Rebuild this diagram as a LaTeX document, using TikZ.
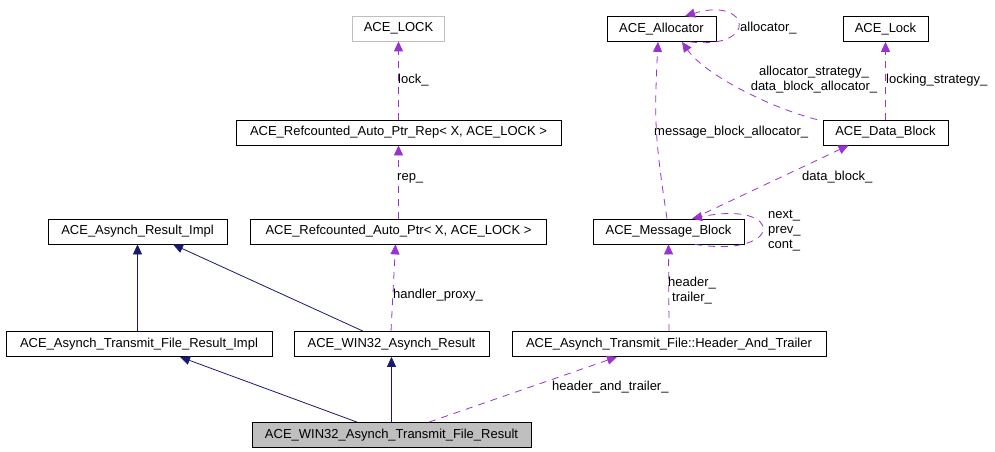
\documentclass[tikz,border=0pt]{standalone}
\usepackage{fontspec}
\setmainfont{Liberation Sans}
\usetikzlibrary{arrows.meta}
\definecolor{inherit}{HTML}{191970}
\definecolor{usage}{HTML}{9A32CD}
\definecolor{boxgray}{HTML}{BFBFBF}
\tikzset{
  cls/.style={draw=black, fill=white, line width=0.8pt, inner sep=0pt, minimum height=25pt},
  base/.style={line width=0.8pt, draw=inherit, -{Triangle[length=10pt,width=9pt,fill=inherit]}},
  member/.style={line width=0.8pt, draw=usage, dash pattern=on 7pt off 6pt, -{Triangle[length=10pt,width=9pt,fill=usage]}},
  lbl/.style={anchor=west, inner sep=0pt, align=left}
}
\begin{document}
\begin{tikzpicture}[x=1pt, y=-1pt, font=\fontsize{13}{15}\selectfont]
        \useasboundingbox[fill=white] (0,0) rectangle (995,452);
        % classes
        \node[cls, draw=boxgray, minimum width=92pt] (LOCK) at (398.5, 28.5) {ACE\_LOCK};
        \node[cls, minimum width=109pt] (Alloc) at (661.5, 29) {ACE\_Allocator};
        \node[cls, minimum width=85pt] (Lock) at (885.5, 29) {ACE\_Lock};
        \node[cls, minimum width=325pt] (Rep) at (398.5, 132.5) {ACE\_Refcounted\_Auto\_Ptr\_Rep< X, ACE\_LOCK >};
        \node[cls, minimum width=125pt] (DataBlk) at (885.5, 132.5) {ACE\_Data\_Block};
        \node[cls, minimum width=179pt] (ResImpl) at (137.5, 231.5) {ACE\_Asynch\_Result\_Impl};
        \node[cls, minimum width=296pt] (Ptr) at (398.5, 231.5) {ACE\_Refcounted\_Auto\_Ptr< X, ACE\_LOCK >};
        \node[cls, minimum width=151pt] (MsgBlk) at (668.5, 231.5) {ACE\_Message\_Block};
        \node[cls, minimum width=266pt] (TFImpl) at (139, 344) {ACE\_Asynch\_Transmit\_File\_Result\_Impl};
        \node[cls, minimum width=195pt] (W32Res) at (391.5, 344) {ACE\_WIN32\_Asynch\_Result};
        \node[cls, minimum width=314pt] (HdrTrl) at (669, 344) {ACE\_Asynch\_Transmit\_File::Header\_And\_Trailer};
        \node[cls, fill=boxgray, minimum width=279pt] (W32TF) at (391.5, 435) {ACE\_WIN32\_Asynch\_Transmit\_File\_Result};
        % inheritance
        \draw[base] ([xshift=-1.5pt]TFImpl.north) -- (ResImpl.south);
        \draw[base] ([xshift=-28.5pt]W32Res.north) -- ([xshift=35.5pt]ResImpl.south);
        \draw[base] ([xshift=-34.5pt]W32TF.north) -- ([xshift=41pt]TFImpl.south);
        \draw[base] (W32TF.north) -- (W32Res.south);
        % members
        \draw[member] ([xshift=37.5pt]W32TF.north) -- ([xshift=-52pt]HdrTrl.south);
        \draw[member] ([xshift=-0.5pt]W32Res.north) -- ([xshift=-3pt]Ptr.south);
        \draw[member] (Ptr.north) -- (Rep.south);
        \draw[member] (Rep.north) -- (LOCK.south);
        \draw[member] (HdrTrl.north) -- (MsgBlk.south);
        \draw[member] ([xshift=24.5pt]MsgBlk.north) -- ([xshift=-37pt]DataBlk.south);
        \draw[member] ([xshift=-1.5pt]MsgBlk.north) .. controls +(-12,-80) and +(-4,80) .. ([xshift=-3.5pt]Alloc.south);
        \draw[member] ([xshift=-68.5pt]DataBlk.north) .. controls +(-47,-12) and +(23,33) .. ([xshift=20.5pt]Alloc.south);
        \draw[member] (DataBlk.north) -- (Lock.south);
        \draw[member] ([xshift=28.5pt]Alloc.south) .. controls +(70,8) and +(65,-20) .. ([xshift=23.5pt]Alloc.north);
        \draw[member] ([xshift=26.5pt]MsgBlk.south) .. controls +(90,14) and +(93,-19) .. ([xshift=23.5pt]MsgBlk.north);
        % labels
        \node[lbl] (lHT) at (552, 387) {header\_and\_trailer\_};
        \node[lbl] (lHP) at (393, 295) {handler\_proxy\_};
        \node[lbl] (lRep) at (397, 178) {rep\_};
        \node[lbl] (lLck) at (398, 80) {lock\_};
        \node[lbl, align=center] (lHdr) at (668, 291) {header\_\\trailer\_};
        \node[lbl] (lMBA) at (654, 132) {message\_block\_allocator\_};
        \node[inner sep=0pt, align=center] (lAS) at (814, 80) {allocator\_strategy\_\\data\_block\_allocator\_};
        \node[lbl] (lDB) at (802, 177) {data\_block\_};
        \node[lbl] (lLS) at (886, 80) {locking\_strategy\_};
        \node[lbl] (lAl) at (740, 28) {allocator\_};
        \node[lbl] (lNxt) at (768, 231) {next\_\\prev\_\\cont\_};
    \end{tikzpicture}
\end{document}
